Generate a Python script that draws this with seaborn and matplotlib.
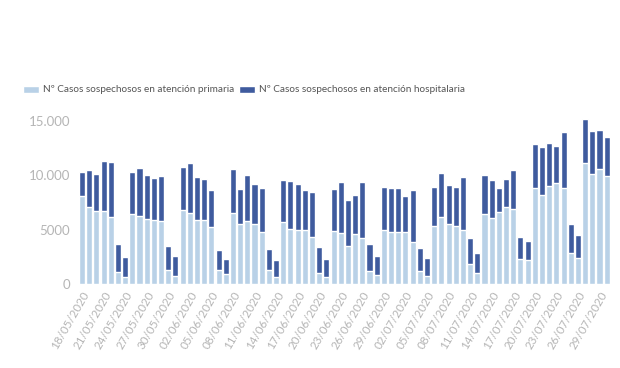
import pandas as pd
import matplotlib.pyplot as plt
import seaborn as sns

# Daily counts (18/05/2020 - 30/07/2020)
dates = pd.date_range("2020-05-18", "2020-07-30", freq="D").strftime("%d/%m/%Y").tolist()

total = [10.34, 10.49, 10.12, 11.35, 11.20, 3.71, 2.45,
         10.28, 10.70, 10.03, 9.79, 9.97, 3.47, 2.58,
         10.80, 11.10, 9.85, 9.69, 8.65, 3.16, 2.33,
         10.55, 8.77, 10.00, 9.17, 8.86, 3.22, 2.21,
         9.57, 9.51, 9.20, 8.62, 8.44, 3.37, 2.33,
         8.71, 9.36, 7.76, 8.22, 9.42, 3.71, 2.55,
         8.93, 8.83, 8.83, 8.10, 8.68, 3.31, 2.36,
         8.96, 10.18, 9.11, 8.96, 9.82, 4.23, 2.82,
         10.03, 9.60, 8.83, 9.63, 10.49, 4.36, 3.96,
         12.85, 12.60, 12.94, 12.70, 14.02, 5.49, 4.54,
         15.21, 14.08, 14.20, 13.56]
primaria = [8.10, 7.06, 6.75, 6.69, 6.13, 1.13, 0.67,
            6.44, 6.29, 5.98, 5.89, 5.80, 1.26, 0.77,
            6.81, 6.53, 5.89, 5.89, 5.21, 1.26, 0.89,
            6.53, 5.52, 5.80, 5.52, 4.82, 1.32, 0.67,
            5.71, 5.09, 4.97, 4.97, 4.36, 1.04, 0.67,
            4.91, 4.66, 3.53, 4.60, 4.26, 1.17, 0.86,
            4.97, 4.79, 4.79, 4.79, 3.90, 1.20, 0.77,
            5.34, 6.13, 5.52, 5.34, 4.94, 1.81, 0.98,
            6.41, 6.07, 6.66, 7.09, 6.93, 2.33, 2.21,
            8.83, 8.22, 9.02, 9.33, 8.87, 2.82, 2.36,
            11.10, 10.15, 10.55, 9.97]

df = pd.DataFrame({"fecha": dates,
                   "total": [v * 1000 for v in total],
                   "primaria": [v * 1000 for v in primaria]})

ytick_vals = [0, 5000, 10000, 15000]
ytick_labels = ["0", "5000", "10.000", "15.000"]
labels = ["Nº Casos sospechosos en atención primaria",
          "Nº Casos sospechosos en atención hospitalaria"]
light = "#b9d1e7"
dark = "#3f5b9e"
grey = "#b5b5b5"

sns.set_style("white")
plt.rcParams["font.family"] = ["Lato", "DejaVu Sans"]

fig = plt.figure(figsize=(6.2, 3.68), dpi=100)
ax = fig.add_axes([78.4 / 620, 1 - 284 / 368, (610.3 - 78.4) / 620, (284 - 110) / 368])

# stacked look: total in dark, primary drawn over it in light
sns.barplot(data=df, x="fecha", y="total", color=dark, width=0.84,
            saturation=1, ax=ax, label=labels[1])
sns.barplot(data=df, x="fecha", y="primaria", color=light, width=0.84,
            saturation=1, ax=ax, label=labels[0])

ax.set_ylim(0, 16000)
ax.set_xlim(-0.5, len(dates) - 0.5)
ax.set_yticks(ytick_vals, ytick_labels)
pos = list(range(0, len(dates), 3))
ax.set_xticks(pos, [dates[i] for i in pos])
plt.setp(ax.get_xticklabels(), rotation=60, ha="right", rotation_mode="anchor")
ax.tick_params(axis="x", labelsize=8.4, colors=grey, length=0, pad=4)
ax.tick_params(axis="y", labelsize=9.5, colors=grey, length=0, pad=6)
ax.set_xlabel("")
ax.set_ylabel("")
sns.despine(ax=ax, left=True, bottom=True)

handles, _ = ax.get_legend_handles_labels()
if ax.legend_:
    ax.legend_.remove()
fig.legend([handles[1], handles[0]], labels, loc="center left",
           bbox_to_anchor=(0.03, 1 - 90 / 368), ncol=2, frameon=False,
           fontsize=7.2, handlelength=1.6, handleheight=0.7,
           handletextpad=0.4, columnspacing=0.5, borderaxespad=0,
           labelcolor="#555555")

fig.savefig("out.png", dpi=100)
